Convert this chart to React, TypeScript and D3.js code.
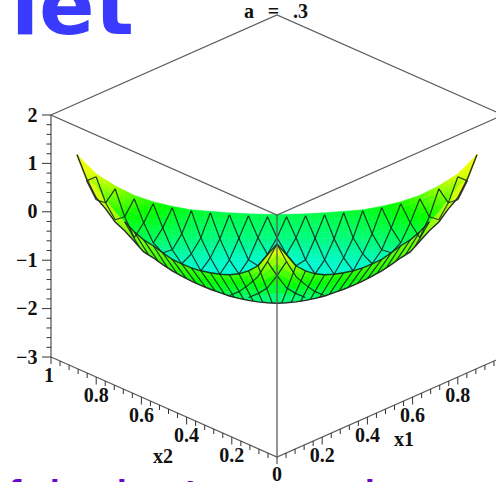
import React from "react";
import * as d3 from "d3";

// Surface rows: apparent height on the z axis, half profile (the plot is mirror-symmetric)
const rimOdd = [-0.052, -0.041, -0.021, 0.01, 0.042, 0.114, 0.207, 0.341, 0.537, 0.785, 1.18]; // c = 1,3,...21
const peakRow = [-0.103, -0.083, -0.062, -0.021, 0.021, 0.083, 0.165, 0.269, 0.475, 0.723]; // c = 1,3,...19
const valleyRow = [-0.537, -0.537, -0.548, -0.558, -0.537, -0.455, -0.331, -0.227, -0.103, 0.186, 0.64]; // c = 0,2,...20
const lowerRow = [-0.88, -0.992, -0.992, -0.95, -0.868, -0.785, -0.64, -0.537, -0.165, 0.248]; // c = 1,3,...19
const foldRow = [-0.667, -0.888, -1.116, -1.219, -1.281, -1.302, -1.291, -1.26, -1.219, -1.157, -1.074, -0.981, -0.847, -0.702, -0.579, -0.413, -0.207, 0, 0.248, 0.537, 0.661, 1.178]; // c = 0..21
const edgeRow = [-1.89, -1.88, -1.86, -1.83, -1.79, -1.74, -1.67, -1.6, -1.52, -1.43, -1.33, -1.22, -1.09, -0.95, -0.83, -0.61, -0.39, -0.21, 0.06, 0.29, 0.68, 1.18]; // c = 0..21

// Colour values (hue)
const rimHue = [138, 137, 135, 132, 128, 122, 112, 100, 80, 66, 60];
const valleyHue = [150, 150, 150, 150, 148, 142, 135, 128, 118, 100, 70];
const lowerHue = [165, 168, 168, 165, 160, 155, 145, 135, 115, 90];
const foldHue = [172, 172, 172, 172, 172, 172, 172, 172, 172, 170, 168, 166, 163, 158, 152, 145, 135, 125, 115, 100, 75, 60];
const bandTopHue = [60, 65, 85, 100, 105, 108, 108, 108, 108, 105, 102, 100, 98, 95, 92, 88, 85, 80, 75, 70, 65, 60];
const bandBottomHue = [155, 155, 152, 150, 145, 140, 135, 130, 125, 120, 118, 115, 110, 105, 100, 95, 90, 85, 78, 70, 65, 60];

// Extra mesh curves near the front corner: [column, height]
const cornerDiamond: [number, number][] = [[0, -0.667], [1, -1.03], [0, -1.32]];
const cornerCurveA: [number, number][] = [[0, -1.32], [1, -1.57], [2, -1.69], [3, -1.77]];
const cornerCurveB: [number, number][] = [[1, -1.03], [2, -1.34], [3, -1.51], [4, -1.65], [5, -1.73]];

// Axes
const zTicks = [2, 1, 0, -1, -2, -3];
const zLabels = ["2", "1", "0", "\u22121", "\u22122", "\u22123"];
const xTicks = [0.2, 0.4, 0.6, 0.8];
const xTickLabels = ["0.2", "0.4", "0.6", "0.8"];
const title = "a = .3";
const headingText = "let";
const footLetters = ["f", "i", "i", "t", "i"];
const footOffsets = [9, 50, 117, 185, 365];

const columnStep = 9.52 / 226;
const diffScale = d3.scaleLinear().domain([-1, 1]).range([51, 503]);
const zScale = d3.scaleLinear().domain([-3, 2]).range([357, 115]);
const x1X = d3.scaleLinear().domain([0, 1]).range([277, 503]);
const x2X = d3.scaleLinear().domain([0, 1]).range([277, 51]);
const edgeY = d3.scaleLinear().domain([0, 1]).range([457, 357]);

const sx = (c: number) => diffScale(c * columnStep);

function at(values: number[], first: number, step: number, c: number) {
  const p = (c - first) / step;
  if (p <= 0) return values[0];
  if (p >= values.length - 1) return values[values.length - 1];
  const i = Math.floor(p);
  return values[i] + (values[i + 1] - values[i]) * (p - i);
}

const fold = (c: number) => at(foldRow, 0, 1, c);
const edge = (c: number) => at(edgeRow, 0, 1, c);

function sheetSample(c: number, t: number): [number, number] {
  const f = fold(c);
  const rim = Math.max(at(rimOdd, 1, 2, c), f);
  const v = Math.min(rim, Math.max(at(valleyRow, 0, 2, c), f));
  const l = Math.min(v, Math.max(at(lowerRow, 1, 2, c), f));
  const zs = [rim, v, l, f];
  const hs = [at(rimHue, 1, 2, c), at(valleyHue, 0, 2, c), at(lowerHue, 1, 2, c), at(foldHue, 0, 1, c)];
  const p = Math.min(t * 3, 2.9999);
  const i = Math.floor(p);
  const u = p - i;
  return [zs[i] + (zs[i + 1] - zs[i]) * u, hs[i] + (hs[i + 1] - hs[i]) * u];
}

function bandSample(c: number, t: number): [number, number] {
  const z = fold(c) + (edge(c) - fold(c)) * t;
  const h = at(bandTopHue, 0, 1, c) + (at(bandBottomHue, 0, 1, c) - at(bandTopHue, 0, 1, c)) * t;
  return [z, h];
}

const hueColor = (h: number) => d3.hsl(h, 1, h > 150 ? 0.49 : 0.5).formatHex();

function strips(sample: (c: number, t: number) => [number, number], bands: number) {
  const out: { d: string; fill: string }[] = [];
  for (const sign of [-1, 1]) {
    for (let c = 0; c < 21; c += 0.5) {
      for (let b = 0; b < bands; b++) {
        const t0 = b / bands;
        const t1 = (b + 1) / bands;
        const a0 = sample(c, t0);
        const a1 = sample(c, t1);
        const b0 = sample(c + 0.5, t0);
        const b1 = sample(c + 0.5, t1);
        const d = `M${sx(sign * c)},${zScale(a0[0])}L${sx(sign * (c + 0.5))},${zScale(b0[0])}L${sx(sign * (c + 0.5))},${zScale(b1[0])}L${sx(sign * c)},${zScale(a1[0])}Z`;
        out.push({ d, fill: hueColor((a0[1] + a1[1] + b0[1] + b1[1]) / 4) });
      }
    }
  }
  return out;
}

const lineGen = d3.line<[number, number]>().x((p) => sx(p[0])).y((p) => zScale(p[1]));

function meshSegments() {
  const segs: [number, number][][] = [];
  const link = (from: number[], fFirst: number, to: (c: number) => number | null) => {
    from.forEach((z, i) => {
      const c = fFirst + 2 * i;
      for (const n of [c - 1, c + 1]) {
        const tz = to(Math.abs(n));
        if (tz === null) continue;
        for (const s of [1, -1]) segs.push([[s * c, z], [s * n, tz]]);
      }
    });
  };
  const valleyAt = (c: number) => (c <= 20 ? at(valleyRow, 0, 2, c) : null);
  link(peakRow, 1, valleyAt);
  link(lowerRow, 1, valleyAt);
  link(lowerRow, 1, (c) => (c >= 2 && c <= 13 ? fold(c) : null));
  return segs;
}

const sheetStrips = strips(sheetSample, 12);
const bandStrips = strips(bandSample, 6);
const columns = d3.range(-21, 22);
const foldColumns = d3.range(-16, 17);
const foldPath = lineGen(foldColumns.map((c) => [c, fold(Math.abs(c))] as [number, number])) || "";
const edgePath = lineGen(columns.map((c) => [c, edge(Math.abs(c))] as [number, number])) || "";
const hatchColumns = d3.range(2, 17);

const serif = "'Liberation Serif', 'DejaVu Serif', serif";

export default function App() {
  const meshStyle = { stroke: "#0f2a20", strokeWidth: 1.2, fill: "none", strokeOpacity: 0.9 };
  const boxStyle = { stroke: "#5c5c5c", strokeWidth: 1.3, fill: "none" };
  const minor = d3.range(0, 26).map((i) => -3 + i * 0.2);
  const xMinor = d3.range(1, 25).map((i) => i * 0.04);
  const isMajor = (v: number) => Math.abs(v * 5 - Math.round(v * 5)) < 1e-6;
  const labelStyle = { fontFamily: serif, fontWeight: "bold", fontSize: 20, fill: "#111" };
  return (
    <svg width={496} height={482} style={{ position: "absolute", left: 0, top: 0, background: "#fff" }}>
      <text x={11} y={34} fontFamily="'DejaVu Sans'" fontWeight="bold" fontSize={82} fill="#3a3aff">{headingText}</text>
      {footLetters.map((l, i) => (
        <text key={i} x={footOffsets[i]} y={501} fontFamily="'DejaVu Sans'" fontWeight="bold" fontSize={28} fill="#6a08c8">{l}</text>
      ))}

      <text x={276} y={18} textAnchor="middle" wordSpacing={8.8} {...labelStyle}>{title}</text>

      {sheetStrips.map((s, i) => <path key={i} d={s.d} fill={s.fill} stroke={s.fill} strokeWidth={0.5} />)}
      {bandStrips.map((s, i) => <path key={i} d={s.d} fill={s.fill} stroke={s.fill} strokeWidth={0.5} />)}
      {meshSegments().map((s, i) => <path key={i} d={lineGen(s) || ""} {...meshStyle} />)}
      {hatchColumns.flatMap((c) => [1, -1].map((s) => (
        <path key={`${c}${s}`} d={lineGen([[s * c, fold(c)], [s * (c - 1.5), edge(c - 1.5)]]) || ""} {...meshStyle} />
      )))}
      {[cornerDiamond, cornerCurveA, cornerCurveB].flatMap((curve, i) => [1, -1].map((s) => (
        <path key={`${i}${s}`} d={lineGen(curve.map((p) => [s * p[0], p[1]] as [number, number])) || ""} {...meshStyle} />
      )))}
      <path d={foldPath} {...meshStyle} strokeWidth={1.4} />
      <path d={edgePath} stroke="#2a2a2a" strokeWidth={1.4} fill="none" />

      {/* frame */}
      <path d={`M${x2X(1)},${zScale(2)}L${x1X(0)},${zScale(2) - 100}L${x1X(1)},${zScale(2)}L${x1X(0)},${edgeY(0) - (zScale(-3) - zScale(2))}Z`} {...boxStyle} />
      <path d={`M${x1X(0)},${edgeY(0) - (zScale(-3) - zScale(2))}L${x1X(0)},${edgeY(0)}`} {...boxStyle} />
      <path d={`M${x2X(1)},${zScale(2)}L${x2X(1)},${zScale(-3)}`} {...boxStyle} />
      <path d={`M${x2X(1)},${edgeY(1)}L${x2X(0)},${edgeY(0)}L${x1X(1)},${edgeY(1)}`} {...boxStyle} />

      {/* z axis */}
      {minor.map((v, i) => {
        const major = Math.abs(v - Math.round(v)) < 1e-6;
        return <line key={i} x1={x2X(1) - (major ? 9 : 4.5)} x2={x2X(1)} y1={zScale(v)} y2={zScale(v)} stroke="#333" strokeWidth={1} />;
      })}
      {zTicks.map((v, i) => (
        <text key={v} x={37.5} y={zScale(v) + 6.5} textAnchor="end" {...labelStyle}>{zLabels[i]}</text>
      ))}

      {/* x1, x2 ticks */}
      {xMinor.map((v, i) => {
        const len = isMajor(v) ? 7.5 : 5;
        return (
          <g key={i} stroke="#333" strokeWidth={1}>
            <line x1={x1X(v)} x2={x1X(v)} y1={edgeY(v)} y2={edgeY(v) + len} />
            <line x1={x2X(v)} x2={x2X(v)} y1={edgeY(v)} y2={edgeY(v) + len} />
          </g>
        );
      })}
      <line x1={x1X(0)} x2={x1X(0)} y1={edgeY(0)} y2={edgeY(0) + 7} stroke="#333" />
      <line x1={x2X(1)} x2={x2X(1)} y1={edgeY(1)} y2={edgeY(1) + 7} stroke="#333" />
      {xTicks.map((v, i) => (
        <g key={v} textAnchor="middle" {...labelStyle}>
          <text x={x1X(v)} y={edgeY(v) + 24.5}>{xTickLabels[i]}</text>
          <text x={x2X(v)} y={edgeY(v) + 24.5}>{xTickLabels[i]}</text>
        </g>
      ))}
      <g textAnchor="middle" {...labelStyle}>
        <text x={x2X(1) - 2} y={edgeY(1) + 24.5}>1</text>
        <text x={x1X(0)} y={edgeY(0) + 23.5}>0</text>
        <text x={163} y={edgeY(0) + 6}>x2</text>
        <text x={404} y={edgeY(0) - 11}>x1</text>
      </g>
    </svg>
  );
}
